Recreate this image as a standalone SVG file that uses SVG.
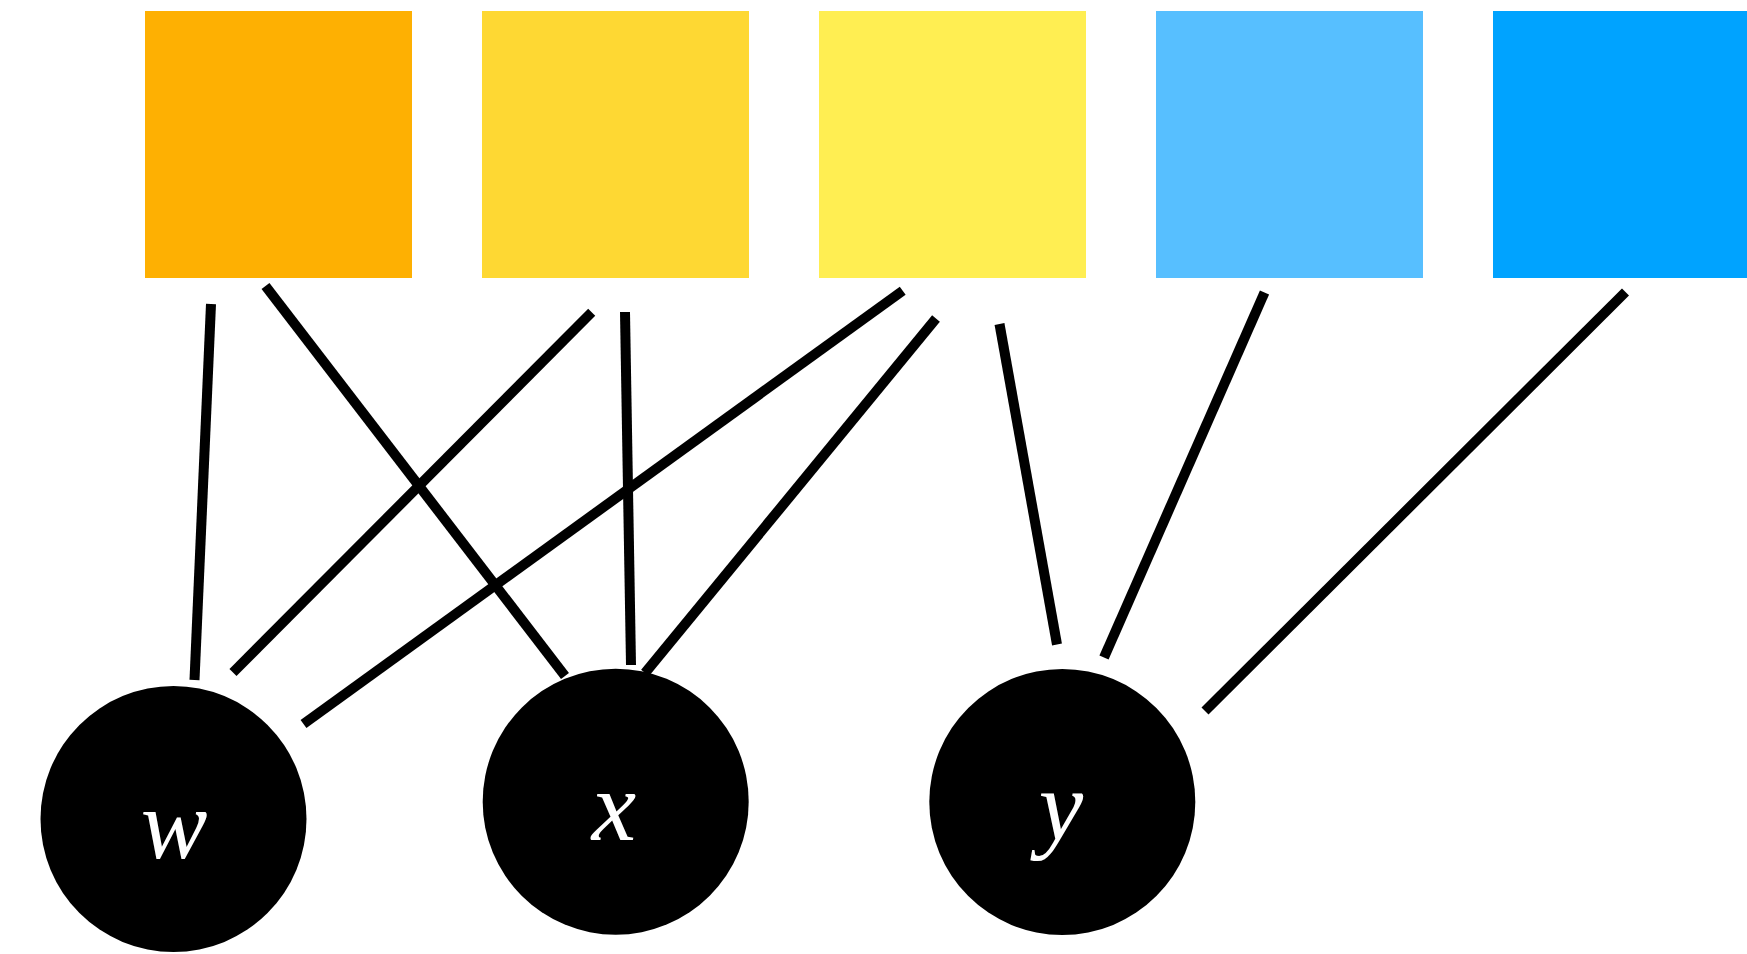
<svg xmlns="http://www.w3.org/2000/svg" width="1747" height="954" viewBox="0 0 1747 954">
  <style>
    .edge { stroke: #000; stroke-width: 10; stroke-linecap: butt; fill: none; }
    .var { fill: #000; }
    .label { fill: #fff; font-family: "Times New Roman", "Liberation Serif", Times, serif; font-style: italic; font-size: 100px; text-anchor: middle; }
  </style>
  <rect width="1747" height="954" fill="#fff"/>

  <!-- colour swatches -->
  <g id="swatch-1"><rect x="145" y="11" width="267" height="267" fill="#FEB002"/></g>
  <g id="swatch-2"><rect x="482" y="11" width="267" height="267" fill="#FED833"/></g>
  <g id="swatch-3"><rect x="819" y="11" width="267" height="267" fill="#FFEE52"/></g>
  <g id="swatch-4"><rect x="1156" y="11" width="267" height="267" fill="#57BFFF"/></g>
  <g id="swatch-5"><rect x="1493" y="11" width="267" height="267" fill="#00A3FF"/></g>

  <!-- connectors -->
  <g id="connectors">
    <line class="edge" x1="211" y1="304" x2="194.5" y2="680"/>
    <line class="edge" x1="265.5" y1="286" x2="565" y2="676"/>
    <line class="edge" x1="591.7" y1="312.3" x2="233" y2="672.5"/>
    <line class="edge" x1="625" y1="312" x2="631" y2="665"/>
    <line class="edge" x1="902.7" y1="290.7" x2="303.5" y2="724"/>
    <line class="edge" x1="936" y1="318.5" x2="645" y2="673"/>
    <line class="edge" x1="999.5" y1="324" x2="1057" y2="644.5"/>
    <line class="edge" x1="1264.5" y1="292.5" x2="1104" y2="657.5"/>
    <line class="edge" x1="1625.5" y1="292" x2="1205" y2="711"/>
  </g>

  <!-- variables -->
  <g id="node-w">
    <circle class="var" cx="173.5" cy="819" r="133"/>
    <text class="label" x="174" y="858">w</text>
  </g>
  <g id="node-x">
    <circle class="var" cx="615.7" cy="801.7" r="133"/>
    <text class="label" x="614" y="840">x</text>
  </g>
  <g id="node-y">
    <circle class="var" cx="1062.3" cy="802" r="133"/>
    <text class="label" x="1061" y="840">y</text>
  </g>
</svg>
